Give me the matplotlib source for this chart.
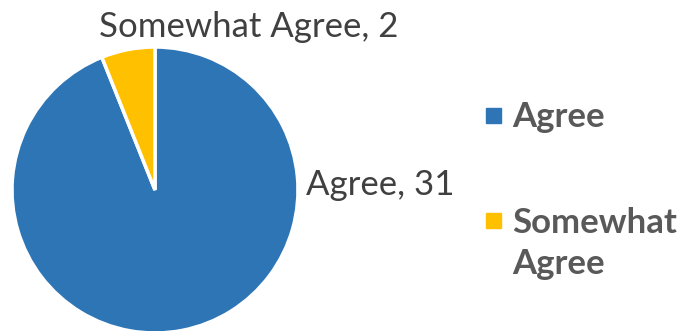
import matplotlib
matplotlib.use('Agg')
import matplotlib.pyplot as plt
from matplotlib.patches import Rectangle

categories = ['Agree', 'Somewhat Agree']
values = [31, 2]
legend_labels = ['Agree', 'Somewhat\nAgree']
colors = ['#2E75B6', '#FFC000']

plt.rcParams['font.family'] = ['Lato', 'DejaVu Sans']

fig = plt.figure(figsize=(6.82, 3.31), dpi=100)
ax = fig.add_axes([0, 0, 1, 1])

# pixel-like coordinates, y up
wedges, _ = ax.pie(values, colors=colors, startangle=90, counterclock=False,
                   center=(155, 141), radius=143,
                   wedgeprops=dict(edgecolor='white', linewidth=2.5))
ax.set_xlim(0, 682)
ax.set_ylim(0, 331)
ax.set_aspect('equal')
ax.axis('off')

# data labels (baseline positions)
label_pos = [(380, 136), (249, 294)]
for name, v, (lx, ly) in zip(categories, values, label_pos):
    ax.text(lx, ly, f'{name}, {v}', fontsize=25, color='#404040',
            ha='center', va='baseline')

# legend; multiline text is anchored on its last baseline
leg_pos = [(493, 216), (493, 111)]
for lab, c, (mx, my) in zip(legend_labels, colors, leg_pos):
    ax.add_patch(Rectangle((mx - 7.5, my - 7.5), 15, 15, color=c))
    nl = lab.count('\n')
    ax.text(mx + 19, my - 12 - 42 * nl, lab, fontsize=25, fontweight='bold',
            color='#595959', ha='left', va='baseline', linespacing=1.34)

fig.savefig('out.png', dpi=100)
